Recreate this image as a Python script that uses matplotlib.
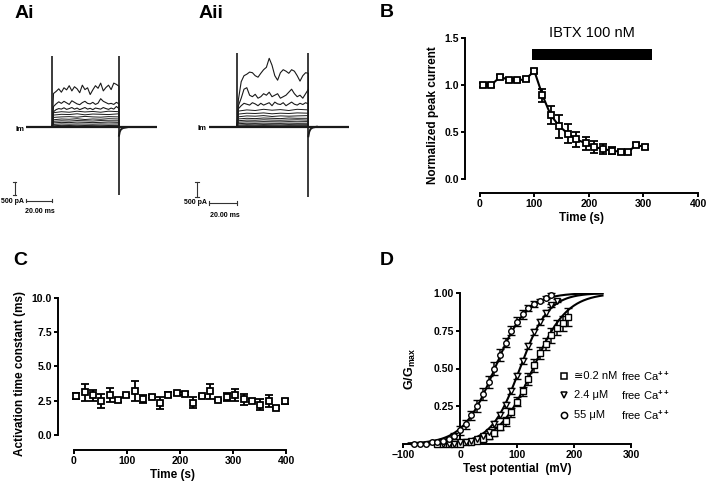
import matplotlib
matplotlib.use("Agg")
import matplotlib.pyplot as plt
import numpy as np

W, H = 709, 488

# ---- panel A: current traces (ms, pA) ----
pulse_t = [21, 23, 25, 27, 29, 31, 33, 35, 37, 39, 41, 43, 45, 47, 49, 51, 53, 55, 57, 59, 61, 63, 65, 67, 69, 71]
low_t = [21, 27, 33, 39, 45, 51, 57, 63, 71]
pulse_on, pulse_off = 20, 71
tail_t = [71, 71.6, 72.5, 74, 77]
tail_i = [-320, -170, -80, -30, 0]

ai_big = [
    [1300, 1380, 1480, 1350, 1520, 1440, 1600, 1400, 1560, 1480, 1330, 1620, 1450, 1520, 1260, 1440, 1600, 1500, 1700, 1400, 1530, 1620, 1450, 1700, 1650, 1580],
    [800, 900, 980, 920, 1000, 940, 880, 1020, 960, 900, 870, 950, 1000, 920, 900, 960, 880, 930, 1100, 1000, 950, 900, 920, 880, 960, 900],
    [600, 680, 720, 700, 750, 690, 720, 760, 700, 740, 680, 720, 760, 700, 730, 680, 740, 720, 700, 760, 720, 690, 740, 700, 800, 720],
]
ai_small = [
    [560, 600, 580, 620, 590, 610, 580, 620, 600],
    [470, 500, 490, 520, 480, 510, 500, 490, 520],
    [380, 400, 410, 390, 420, 400, 390, 410, 400],
    [290, 320, 310, 330, 300, 320, 310, 330, 320],
    [230, 250, 240, 260, 250, 240, 260, 250, 250],
    [170, 190, 180, 200, 190, 180, 190, 200, 190],
    [110, 130, 120, 130, 125, 120, 130, 125, 130],
    [60, 75, 70, 80, 70, 75, 80, 70, 75],
    [30, 40, 35, 40, 38, 35, 40, 38, 40],
]
ai_spike = (2740, -2600)

aii_big = [
    [900, 1500, 1700, 1750, 1820, 1800, 1700, 1650, 1780, 1900, 1980, 2280, 2050, 1700, 1550, 1800, 1900, 1850, 1780, 1900, 1850, 1700, 1520, 1700, 1800, 1780],
    [700, 950, 1250, 1300, 1050, 1000, 1080, 950, 1000, 1100, 1050, 1150, 1000, 1050, 1100, 950, 1000, 1050, 1150, 1250, 1100, 1000, 1050, 950, 1100, 1250],
    [600, 700, 780, 750, 720, 800, 760, 700, 780, 720, 760, 800, 700, 820, 760, 740, 800, 700, 760, 820, 750, 720, 780, 740, 800, 760],
]
aii_small = [
    [520, 560, 540, 580, 550, 570, 540, 580, 560],
    [420, 450, 440, 460, 430, 450, 440, 460, 450],
    [330, 360, 350, 370, 340, 360, 350, 360, 370],
    [260, 280, 270, 290, 280, 270, 290, 280, 280],
    [200, 220, 215, 230, 220, 215, 225, 230, 220],
    [150, 165, 160, 170, 165, 160, 170, 165, 170],
    [100, 115, 110, 118, 112, 110, 118, 112, 115],
    [55, 68, 62, 70, 65, 62, 70, 66, 68],
    [25, 34, 30, 36, 32, 30, 35, 33, 34],
]
aii_spike = (2460, -2340)

# ---- panel B: normalized peak current ----
b_time = [6, 21, 38, 53, 68, 84, 100, 115, 130, 146, 162, 177, 194, 209, 225, 242, 258, 272, 287, 303]
b_val = [1.00, 1.00, 1.09, 1.05, 1.05, 1.06, 1.15, 0.89, 0.68, 0.56, 0.48, 0.42, 0.38, 0.34, 0.32, 0.30, 0.29, 0.29, 0.36, 0.34]
b_err = [0.02, 0.02, 0.02, 0.02, 0.02, 0.02, 0.02, 0.07, 0.10, 0.12, 0.10, 0.08, 0.07, 0.06, 0.05, 0.04, 0.02, 0.02, 0.02, 0.02]
ibtx_start, ibtx_end = 95, 315

# ---- panel C: activation time constant ----
c_time = [4, 20, 36, 52, 68, 83, 99, 115, 131, 147, 162, 178, 194, 209, 225, 241, 257, 272, 288, 304, 320, 335, 351, 367, 382, 398]
c_val = [2.85, 3.1, 2.9, 2.5, 2.9, 2.55, 2.9, 3.2, 2.6, 2.8, 2.35, 2.95, 3.05, 3.0, 2.35, 2.85, 3.2, 2.55, 2.75, 2.9, 2.6, 2.5, 2.2, 2.5, 2.0, 2.45]
c_err = [0.2, 0.65, 0.4, 0.5, 0.5, 0.15, 0.1, 0.75, 0.3, 0.1, 0.45, 0.15, 0.1, 0.1, 0.4, 0.1, 0.55, 0.1, 0.3, 0.45, 0.4, 0.1, 0.4, 0.45, 0.1, 0.2]

# ---- panel D: G/Gmax vs test potential ----
d_sq_v = [-40, -30, -20, -10, 0, 10, 20, 30, 40, 50, 60, 70, 80, 90, 100, 110, 120, 130, 140, 150, 160, 170, 180, 190]
d_sq_g = [0.00, 0.00, 0.00, 0.00, 0.00, 0.01, 0.01, 0.02, 0.03, 0.05, 0.07, 0.11, 0.15, 0.21, 0.28, 0.35, 0.43, 0.52, 0.60, 0.66, 0.72, 0.77, 0.80, 0.84]
d_sq_e = [0, 0, 0, 0, 0, 0.01, 0.01, 0.01, 0.01, 0.02, 0.02, 0.02, 0.03, 0.03, 0.03, 0.03, 0.04, 0.04, 0.04, 0.04, 0.05, 0.05, 0.05, 0.06]
d_tri_v = [-30, -20, -10, 0, 10, 20, 30, 40, 50, 60, 70, 80, 90, 100, 110, 120, 130, 140, 150, 160, 170]
d_tri_g = [0.00, 0.00, 0.00, 0.01, 0.01, 0.02, 0.03, 0.05, 0.08, 0.13, 0.19, 0.26, 0.35, 0.45, 0.55, 0.65, 0.74, 0.81, 0.87, 0.92, 0.95]
d_tri_e = [0, 0, 0, 0, 0, 0.01, 0.01, 0.01, 0.01, 0.02, 0.02, 0.02, 0.02, 0.02, 0.02, 0.02, 0.02, 0.02, 0.02, 0.01, 0.01]
d_cir_v = [-80, -70, -60, -50, -40, -30, -20, -10, 0, 10, 20, 30, 40, 50, 60, 70, 80, 90, 100, 110, 120, 130, 140, 150, 160]
d_cir_g = [0.00, 0.00, 0.00, 0.01, 0.01, 0.02, 0.03, 0.05, 0.09, 0.13, 0.19, 0.25, 0.33, 0.41, 0.50, 0.59, 0.67, 0.75, 0.81, 0.86, 0.90, 0.93, 0.95, 0.97, 0.99]
d_cir_e = [0, 0, 0, 0, 0, 0.01, 0.01, 0.02, 0.03, 0.03, 0.03, 0.04, 0.04, 0.04, 0.04, 0.04, 0.03, 0.03, 0.03, 0.03, 0.02, 0.02, 0.01, 0.01, 0.01]
d_fit_vhalf = [128, 105, 61]
d_fit_slope = [30, 25, 28]
d_labels = [("\u22450.2 nM", "free Ca$^{++}$"), ("2.4 \u03bcM", "free Ca$^{++}$"), ("55 \u03bcM", "free Ca$^{++}$")]

plt.rcParams["font.family"] = ["Liberation Sans", "DejaVu Sans"]
plt.rcParams["font.weight"] = "bold"
plt.rcParams["axes.labelweight"] = "bold"
plt.rcParams["mathtext.fontset"] = "custom"
plt.rcParams["mathtext.rm"] = "Liberation Sans"
plt.rcParams["mathtext.bf"] = "Liberation Sans:bold"

fig = plt.figure(figsize=(W / 100, H / 100), dpi=100)


def axes_px(left, top, right, bottom):
    return fig.add_axes([left / W, 1 - bottom / H, (right - left) / W, (bottom - top) / H])


def prism_style(ax, xb, yb):
    for s in ["top", "right"]:
        ax.spines[s].set_visible(False)
    for s in ["left", "bottom"]:
        ax.spines[s].set_linewidth(1.4)
    ax.spines["left"].set_bounds(*yb)
    ax.spines["bottom"].set_bounds(*xb)
    ax.tick_params(direction="out", length=3, width=1.4, labelsize=7.5, pad=1.5)
    ax.patch.set_alpha(0)


def draw_traces(ax, big, small, spike, bar_y, bar_x, ms_xy, pa_xy):
    col = "#1a1a1a"
    for vals in big:
        ax.plot([0, pulse_on] + pulse_t + [pulse_off, 100], [0, 0] + vals + [0, 0], color=col, lw=0.8)
    for vals in small:
        ax.plot([0, pulse_on] + low_t + [pulse_off, 100], [0, 0] + vals + [0, 0], color=col, lw=0.7)
    ax.plot([0, 100], [0, 0], color=col, lw=1.6)
    ax.vlines(pulse_on, 0, spike[0], color=col, lw=1.2)
    ax.vlines(pulse_off, spike[1], spike[0], color=col, lw=1.2)
    ax.plot(tail_t, tail_i, color=col, lw=1.4)
    # scale bars
    ax.plot([bar_x, bar_x], [bar_y - 500, bar_y], color="#333333", lw=0.8, clip_on=False)
    ax.plot([bar_x - 1.2, bar_x + 1.2], [bar_y, bar_y], color="#333333", lw=0.8, clip_on=False)
    ax.plot([bar_x - 1.2, bar_x + 1.2], [bar_y - 500, bar_y - 500], color="#333333", lw=0.8, clip_on=False)
    ax.plot([0, 20], [ms_xy[1] + 130, ms_xy[1] + 130], color="#333333", lw=0.8, clip_on=False)
    ax.plot([0, 0], [ms_xy[1] + 60, ms_xy[1] + 200], color="#333333", lw=0.8, clip_on=False)
    ax.plot([20, 20], [ms_xy[1] + 60, ms_xy[1] + 200], color="#333333", lw=0.8, clip_on=False)
    ax.text(pa_xy[0], pa_xy[1], "500 pA", fontsize=5, ha="center", va="center", clip_on=False)
    ax.text(ms_xy[0], ms_xy[1] - 280, "20.00 ms", fontsize=5, ha="center", va="center", clip_on=False)
    ax.text(-1.5, -70, "Im", fontsize=5.5, ha="right", va="center")
    ax.set_xlim(0, 100)
    ax.axis("off")


# Ai
ax_ai = axes_px(26, 54.5, 157, 197.5)
ax_ai.set_ylim(-2700, 2800)
draw_traces(ax_ai, ai_big, ai_small, ai_spike, -2100, -8.5, (10.5, -2950), (-10.3, -2870))

# Aii
ax_aii = axes_px(209, 51.7, 349, 198.7)
ax_aii.set_ylim(-2400, 2500)
draw_traces(ax_aii, aii_big, aii_small, aii_spike, -1850, -8.6, (11.5, -2680), (-10, -2540))

# B
ax_b = axes_px(465, 38, 698, 193)
ax_b.plot(b_time, b_val, color="black", lw=1.5, zorder=2)
ax_b.errorbar(b_time, b_val, yerr=b_err, fmt="s", ms=5.0, mfc="white", mec="black", mew=1.3,
              ecolor="black", elinewidth=1.3, capsize=2.8, capthick=1.3, zorder=3, clip_on=False)
ax_b.fill_between([ibtx_start, ibtx_end], 1.27, 1.38, color="black", lw=0, clip_on=False)
ax_b.text((ibtx_start + ibtx_end) / 2, 1.555, "IBTX 100 nM", ha="center", va="center",
          fontsize=10.5, fontweight="normal", clip_on=False)
ax_b.set_xlim(-27, 400)
ax_b.set_ylim(-0.15, 1.5)
ax_b.set_xticks([0, 100, 200, 300, 400])
ax_b.set_yticks([0.0, 0.5, 1.0, 1.5])
ax_b.set_yticklabels(["0.0", "0.5", "1.0", "1.5"])
prism_style(ax_b, (0, 400), (0, 1.5))
ax_b.set_xlabel("Time (s)", fontsize=8.5, labelpad=2)
ax_b.set_ylabel("Normalized peak current", fontsize=8.5, labelpad=4)

# C
ax_c = axes_px(58, 298, 286, 450)
ax_c.errorbar(c_time, c_val, yerr=c_err, fmt="s", ms=5.0, mfc="white", mec="black", mew=1.3,
              ecolor="black", elinewidth=1.3, capsize=2.8, capthick=1.3, ls="none", clip_on=False)
ax_c.set_xlim(-30, 400)
ax_c.set_ylim(-1.1, 10)
ax_c.set_xticks([0, 100, 200, 300, 400])
ax_c.set_yticks([0.0, 2.5, 5.0, 7.5, 10.0])
ax_c.set_yticklabels(["0.0", "2.5", "5.0", "7.5", "10.0"])
prism_style(ax_c, (0, 400), (0, 10))
ax_c.set_xlabel("Time (s)", fontsize=8.5, labelpad=2)
ax_c.set_ylabel("Activation time constant (ms)", fontsize=8.5, labelpad=4)

# D
ax_d = axes_px(403, 293, 631, 444)
v_fit = np.linspace(-90, 250, 300)
for vh, k in zip(d_fit_vhalf, d_fit_slope):
    ax_d.plot(v_fit, 1 / (1 + np.exp((vh - v_fit) / k)), color="black", lw=1.5, zorder=2)
mk = dict(mfc="white", mec="black", mew=1.0, ecolor="black", elinewidth=1.1, capsize=2.6,
          capthick=1.1, ls="none", clip_on=False, zorder=3)
ax_d.errorbar(d_sq_v, d_sq_g, yerr=d_sq_e, fmt="s", ms=4.0, **mk)
ax_d.errorbar(d_tri_v, d_tri_g, yerr=d_tri_e, fmt="v", ms=4.5, **mk)
ax_d.errorbar(d_cir_v, d_cir_g, yerr=d_cir_e, fmt="o", ms=4.0, **mk)
ax_d.set_xlim(-100, 300)
ax_d.set_ylim(0, 1.0)
ax_d.set_xticks([-100, 0, 100, 200, 300])
ax_d.set_xticklabels(["\u2212100", "0", "100", "200", "300"])
ax_d.set_yticks([0.25, 0.5, 0.75, 1.0])
ax_d.set_yticklabels(["0.25", "0.50", "0.75", "1.00"])
prism_style(ax_d, (-100, 300), (0, 1.0))
ax_d.spines["left"].set_position(("data", 0))
ax_d.set_xlabel("Test potential  (mV)", fontsize=8.5, labelpad=2)
ax_d.set_ylabel("$\\mathbf{G/G_{max}}$", fontsize=9)
ax_d.yaxis.set_label_coords(0.066, 0.5)
for (lab1, lab2), m, yy in zip(d_labels, ["s", "v", "o"], [0.45, 0.325, 0.19]):
    ax_d.plot([0.706], [yy], marker=m, ms=4.5, mfc="white", mec="black", mew=1.1,
              transform=ax_d.transAxes, clip_on=False)
    ax_d.text(0.752, yy, lab1, transform=ax_d.transAxes, fontsize=8, fontweight="normal",
              va="center", ha="left")
    ax_d.text(0.955, yy, lab2, transform=ax_d.transAxes, fontsize=8, fontweight="normal",
              va="center", ha="left")

# panel letters
for lab, x, y in [("Ai", 15, 18), ("Aii", 199, 18), ("B", 380, 17), ("C", 13, 265), ("D", 380, 265)]:
    fig.text(x / W, 1 - y / H, lab, fontsize=14, fontweight="bold", ha="left", va="baseline")

fig.savefig("out.png", dpi=100)
